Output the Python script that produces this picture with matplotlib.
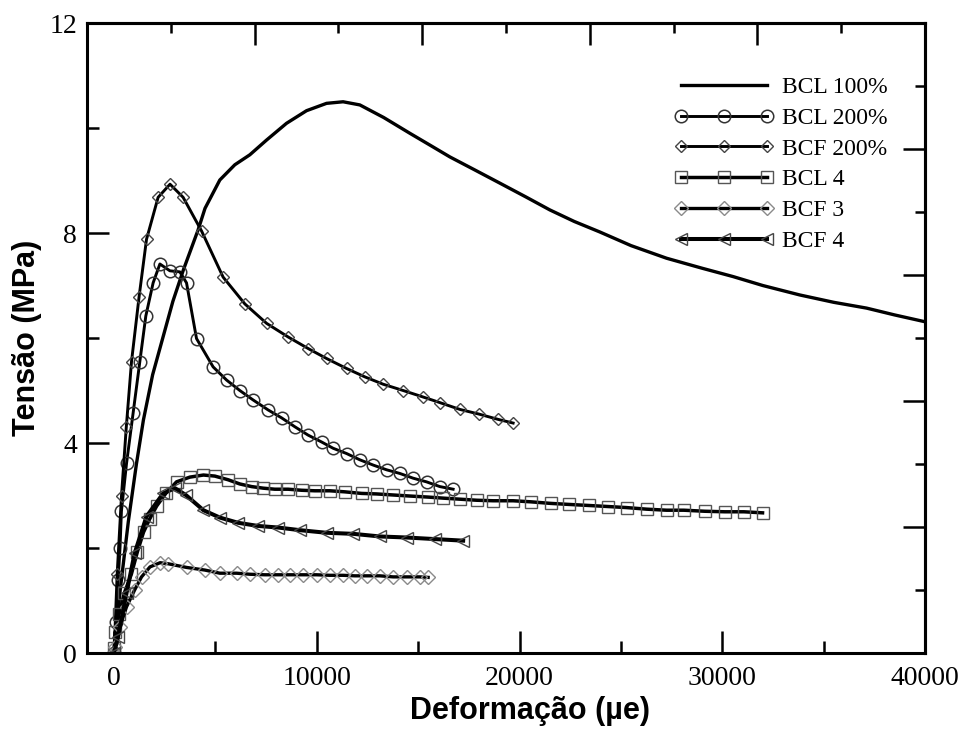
import numpy as np
import matplotlib
matplotlib.use("Agg")
import matplotlib.pyplot as plt
from matplotlib.ticker import MultipleLocator

# values (strain in microstrain, stress in MPa)
bcl100_x = [0, 300, 700, 1100, 1446, 1900, 2400, 2900, 3419, 4144, 4484, 5215,
            5955, 6695, 7518, 8505, 9492, 10479, 11297, 12122, 13300, 14588,
            15600, 16562, 17800, 19029, 20300, 21495, 22700, 23960, 25500,
            27252, 29000, 30537, 32000, 33826, 35500, 37116, 38500, 40000]
bcl100_y = [0, 1.2, 2.5, 3.6, 4.44, 5.3, 6.0, 6.7, 7.30, 8.06, 8.47, 9.01,
            9.30, 9.49, 9.77, 10.09, 10.33, 10.47, 10.50, 10.44, 10.20, 9.90,
            9.67, 9.45, 9.20, 8.95, 8.69, 8.44, 8.22, 8.02, 7.76, 7.52, 7.33,
            7.17, 7.00, 6.82, 6.68, 6.57, 6.44, 6.31]

bcl200_x = [0, 100, 200, 290, 360, 612, 937, 1268, 1564, 1924, 2258, 2752,
            3241, 3572, 4065, 4884, 5545, 6201, 6857, 7597, 8258, 8914, 9571,
            10232, 10804, 11465, 12122, 12778, 13439, 14095, 14751, 15412,
            16068, 16724]
bcl200_y = [0, 0.6, 1.4, 2.0, 2.7, 3.61, 4.57, 5.55, 6.42, 7.05, 7.41, 7.28,
            7.26, 7.05, 5.99, 5.45, 5.20, 5.00, 4.82, 4.63, 4.48, 4.31, 4.15,
            4.02, 3.90, 3.80, 3.68, 3.58, 3.49, 3.42, 3.33, 3.26, 3.17, 3.12]

bcf200_x = [0, 150, 365, 600, 858, 1233, 1598, 2171, 2757, 3404, 4312, 5377,
            6448, 7519, 8584, 9571, 10478, 11465, 12368, 13271, 14258, 15215,
            16068, 17055, 18007, 18944, 19684]
bcf200_y = [0, 1.5, 3.0, 4.3, 5.55, 6.79, 7.88, 8.68, 8.93, 8.68, 8.04, 7.16,
            6.65, 6.28, 6.02, 5.80, 5.61, 5.42, 5.26, 5.12, 5.00, 4.88, 4.77,
            4.64, 4.55, 4.45, 4.38]

bcl4_x = [0, 60, 250, 500, 850, 1150, 1450, 1750, 2100, 2550, 3078, 3735, 4405,
          4968, 5624, 6201, 6778, 7351, 7928, 8584, 9245, 9901, 10641, 11381,
          12205, 12945, 13764, 14588, 15491, 16231, 17055, 17879, 18698, 19684,
          20543, 21530, 22447, 23420, 24372, 25279, 26265, 27252, 28106, 29142,
          30129, 31066, 31988]
bcl4_y = [0.1, 0.4, 0.75, 1.14, 1.5, 1.93, 2.3, 2.55, 2.8, 3.04, 3.26, 3.35,
          3.39, 3.37, 3.30, 3.22, 3.17, 3.14, 3.12, 3.12, 3.10, 3.09, 3.09,
          3.07, 3.04, 3.03, 3.01, 2.99, 2.97, 2.95, 2.93, 2.91, 2.90, 2.90,
          2.88, 2.85, 2.83, 2.81, 2.79, 2.77, 2.74, 2.72, 2.72, 2.70, 2.69,
          2.69, 2.67]

bcf3_x = [0, 35, 281, 612, 1011, 1352, 1770, 2268, 2664, 3572, 4475, 5215,
          6039, 6695, 7435, 8091, 8668, 9324, 9985, 10641, 11297, 11874, 12452,
          13108, 13764, 14425, 15081, 15491]
bcf3_y = [0, 0.12, 0.50, 0.88, 1.20, 1.45, 1.64, 1.72, 1.70, 1.63, 1.58, 1.52,
          1.52, 1.50, 1.49, 1.49, 1.49, 1.49, 1.49, 1.48, 1.48, 1.47, 1.47,
          1.47, 1.45, 1.45, 1.45, 1.44]

bcf4_x = [0, 197, 612, 1011, 1598, 2419, 2999, 3537, 4405, 5215, 6117, 7104,
          8091, 9161, 10478, 11791, 13108, 14425, 15822, 17218]
bcf4_y = [0, 0.31, 1.14, 1.90, 2.60, 3.04, 3.14, 3.01, 2.72, 2.58, 2.48, 2.42,
          2.39, 2.34, 2.29, 2.27, 2.22, 2.20, 2.17, 2.14]

XMIN, XMAX = -1340, 40000

serif = ["Liberation Serif", "DejaVu Serif"]
label_font = dict(family=["Liberation Sans", "DejaVu Sans"], weight="bold", size=22)

fig = plt.figure(figsize=(9.64, 7.31), dpi=100)
ax = fig.add_axes([0.0902, 0.1067, 0.8693, 0.8618])

ax.plot(bcl100_x, bcl100_y, color="black", lw=2.4, label="BCL 100%")
ax.plot(bcl200_x, bcl200_y, color="black", lw=2.1, marker="o", ms=9,
        mfc="none", mec="#333333", mew=1.1, label="BCL 200%")
ax.plot(bcf200_x, bcf200_y, color="black", lw=2.1, marker="D", ms=6,
        mfc="none", mec="#444444", mew=1.0, label="BCF 200%")
ax.plot(bcl4_x, bcl4_y, color="black", lw=2.5, marker="s", ms=9,
        mfc="none", mec="#555555", mew=1.0, label="BCL 4")
ax.plot(bcf3_x, bcf3_y, color="black", lw=2.4, marker="D", ms=7.5,
        mfc="none", mec="#8a8a8a", mew=1.0, label="BCF 3")
ax.plot(bcf4_x, bcf4_y, color="black", lw=2.9, marker="<", ms=9,
        mfc="none", mec="#444444", mew=1.0, label="BCF 4")

ax.set_xlim(XMIN, XMAX)
ax.set_ylim(0, 12)
ax.set_xticks([0, 10000, 20000, 30000, 40000])
ax.set_yticks([0, 4, 8, 12])
ax.xaxis.set_minor_locator(MultipleLocator(5000))
ax.yaxis.set_minor_locator(MultipleLocator(2))
ax.tick_params(which="major", direction="in", length=16, width=1.8, pad=9)
ax.tick_params(which="minor", direction="in", length=8.5, width=1.8)
ax.tick_params(axis="y", which="major", pad=7)
for lab in ax.get_xticklabels() + ax.get_yticklabels():
    lab.set_family(serif)
    lab.set_fontsize(20)
for sp in ax.spines.values():
    sp.set_linewidth(2.2)

# top and right axes carry their own evenly spaced ticks without labels
span = XMAX - XMIN
top = ax.secondary_xaxis("top", functions=(lambda x: (x - XMIN) / span,
                                           lambda f: f * span + XMIN))
top.set_xticks(np.arange(0, 1.01, 0.2))
top.xaxis.set_minor_locator(MultipleLocator(0.1))
top.tick_params(which="major", direction="in", length=15.5, width=1.8, labeltop=False)
top.tick_params(which="minor", direction="in", length=7.5, width=1.8)
top.spines["top"].set_linewidth(2.2)

right = ax.secondary_yaxis("right", functions=(lambda y: y / 12, lambda f: f * 12))
right.set_yticks(np.arange(0, 1.01, 0.2))
right.yaxis.set_minor_locator(MultipleLocator(0.1))
right.tick_params(which="major", direction="in", length=15.5, width=1.8, labelright=False)
right.tick_params(which="minor", direction="in", length=7.5, width=1.8)
right.spines["right"].set_linewidth(2.2)

ax.set_xlabel("Deformação (µe)", **label_font)
ax.set_ylabel("Tensão (MPa)", **label_font)
ax.xaxis.set_label_coords(0.529, -0.068)
ax.yaxis.set_label_coords(-0.054, 0.5)

ax.legend(loc="upper left", bbox_to_anchor=(0.7005, 0.915), frameon=False,
          prop=dict(family=serif, size=17), numpoints=3, handlelength=4.25,
          handletextpad=0.34, labelspacing=0.39, borderpad=0, borderaxespad=0)

fig.savefig("out.png", dpi=100)
